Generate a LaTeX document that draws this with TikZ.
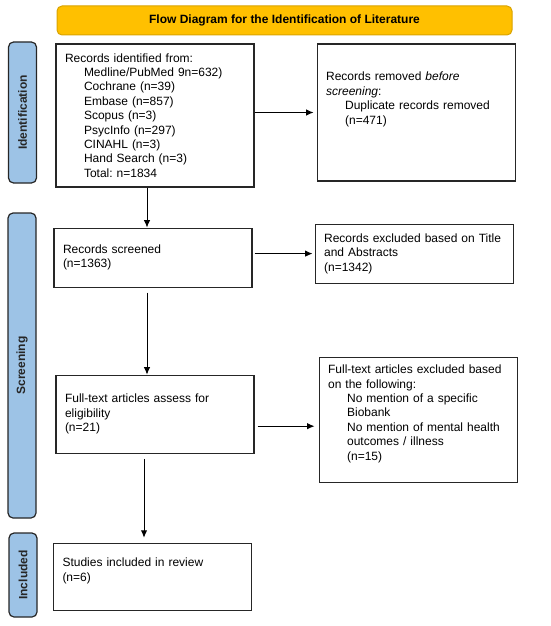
\documentclass[tikz,border=0pt]{standalone}
\usepackage{fontspec}
\setmainfont{Liberation Sans}
\usepackage{tikz}
\usetikzlibrary{positioning,arrows.meta}

\definecolor{phaseblue}{HTML}{9DC3E6}
\definecolor{bannerfill}{HTML}{FFC000}
\definecolor{bannerdraw}{HTML}{D9A300}
\newcommand{\ind}{\hspace*{19pt}}
\frenchspacing

\begin{document}
\begin{tikzpicture}
    [x=1pt,y=-1pt,>={Latex[length=7.5pt,width=6.5pt]},
     font=\fontsize{12}{14.4}\selectfont,
     box/.style={rectangle,draw=black!85,line width=1.1pt,fill=white,
       text width=180pt,inner xsep=9pt,inner ysep=4pt,align=left,
       minimum width=198pt},
     phase/.style={rectangle,rounded corners=5pt,draw=black!85,line width=1.2pt,
       fill=phaseblue,rotate=90,minimum height=28pt,inner sep=0pt,
       font=\fontsize{12}{14.4}\selectfont\bfseries,text=black!85},
     banner/.style={rectangle,rounded corners=5pt,draw=bannerdraw,line width=1pt,
       fill=bannerfill,minimum width=455pt,minimum height=29pt,
       font=\fontsize{12}{14.4}\selectfont\bfseries},
     flow/.style={->,line width=1pt}]

    \useasboundingbox (0,0) rectangle (550,626);

    \node[banner] (title) at (284.5,20.5) {Flow Diagram for the Identification of Literature};

    % left column
    \node[box,minimum height=143pt] (identified) at (155,115.5)
      {Records identified from:\\
       \ind Medline/PubMed 9n=632)\\
       \ind Cochrane (n=39)\\
       \ind Embase (n=857)\\
       \ind Scopus (n=3)\\
       \ind PsycInfo (n=297)\\
       \ind CINAHL (n=3)\\
       \ind Hand Search (n=3)\\
       \ind Total: n=1834};
    \node[box,minimum height=59pt] (screened) [below=40pt of identified,xshift=-2pt]
      {Records screened\\(n=1363)};
    \node[box,minimum height=78pt] (fulltext) [below=87pt of screened,xshift=2pt]
      {Full-text articles assess for\\eligibility\\(n=21)};
    \node[box,minimum height=67pt] (included) [below=89pt of fulltext,xshift=-2.5pt]
      {Studies included in review\\(n=6)\\ \mbox{}};

    % right column
    \node[box,minimum height=137pt] (removed) [right=62pt of identified,yshift=3pt]
      {Records removed \textit{before}\\
       \textit{screening}:\\
       \ind Duplicate records removed\\
       \ind (n=471)\\ \mbox{}\\ \mbox{}};
    \node[box,minimum height=59pt] (excludedta) [right=62pt of screened,yshift=4pt]
      {Records excluded based on Title\\and Abstracts\\(n=1342)};
    \node[box,minimum height=125pt] (excludedft) [right=64pt of fulltext,yshift=-5.5pt]
      {Full-text articles excluded based\\
       on the following:\\
       \ind No mention of a specific\\
       \ind Biobank\\
       \ind No mention of mental health\\
       \ind outcomes / illness\\
       \ind (n=15)\\ \mbox{}};

    % phase bars
    \node[phase,minimum width=141pt] (identphase) at (22.5,112.5) {Identification};
    \node[phase,minimum width=305pt] (screenphase) at (22,365.5) {Screening};
    \node[phase,minimum width=84pt] (inclphase) at (23,575) {Included};

    % arrows
    \draw[flow] ([xshift=-8pt]identified.south) -- ([xshift=-8pt]identified.south |- screened.north);
    \draw[flow,shorten <=5pt] ([xshift=-6pt]screened.south) -- ([xshift=-6pt]screened.south |- fulltext.north);
    \draw[flow,shorten <=5pt,shorten >=5pt] ([xshift=-11pt]fulltext.south) -- ([xshift=-11pt]fulltext.south |- included.north);
    \draw[flow,shorten >=3pt] (identified.east |- removed) -- (removed.west);
    \draw[flow,shorten <=2pt,shorten >=2pt] (screened.east |- excludedta) -- (excludedta.west);
    \draw[flow,shorten <=3pt,shorten >=4pt] ([yshift=-12pt]fulltext.east) -- ([yshift=-12pt]fulltext.east -| excludedft.west);
\end{tikzpicture}
\end{document}
